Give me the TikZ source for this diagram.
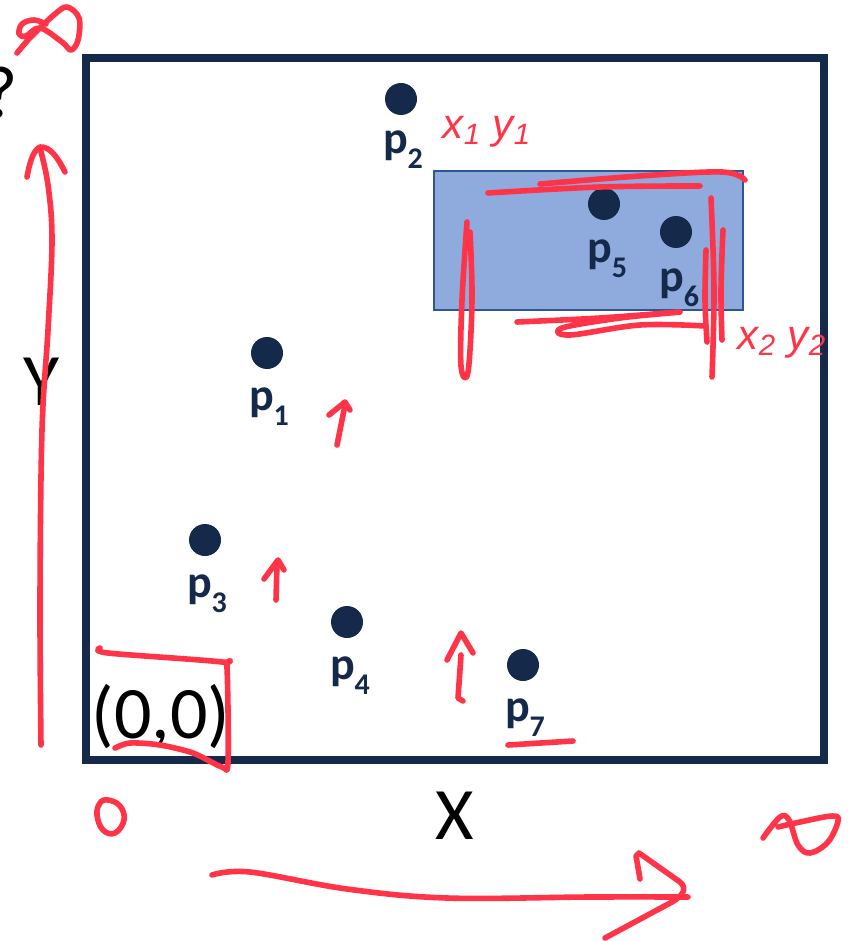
\documentclass[tikz,border=0pt]{standalone}
\usepackage{fontspec}
\setmainfont{Carlito}
\newfontfamily\handfont{Liberation Sans}
\definecolor{navy}{RGB}{21,41,74}
\definecolor{penred}{RGB}{255,52,72}
\definecolor{boxfill}{RGB}{143,170,220}
\definecolor{boxline}{RGB}{47,85,151}
\newcommand\plab[1]{p\raisebox{-7.5pt}{\fontsize{15}{15}\selectfont #1}}
\tikzset{
  dot/.style={circle,fill=navy,inner sep=0pt,minimum size=16pt},
  plabel/.style={anchor=base,text=navy,font=\fontsize{23}{23}\selectfont\bfseries,inner sep=0pt},
  bigtext/.style={text=black,font=\fontsize{37}{37}\selectfont,inner sep=0pt},
  pen/.style={draw=penred,line width=2.8pt,line cap=round,line join=round},
  hand/.style={text=penred,font=\handfont\itshape\fontsize{21}{21}\selectfont,inner sep=0pt},
  frame/.style={draw=navy,line width=4pt},
  region/.style={draw=boxline,line width=1pt,fill=boxfill}
}
\begin{document}
\begin{tikzpicture}[x=0.5pt,y=-0.5pt]
\useasboundingbox (0,0) rectangle (848,941);
% frame
\draw[frame] (86,58) rectangle (824,760);
% query rectangle
\node[region,minimum width=154.5pt,minimum height=69.5pt,inner sep=0pt] (q) at (588.5,240.5) {};
% points
\node[dot] (d1) at (267,353) {};
\node[dot] (d2) at (401,99) {};
\node[dot] (d3) at (205,540) {};
\node[dot] (d4) at (347,622) {};
\node[dot] (d5) at (604,204) {};
\node[dot] (d6) at (676,232) {};
\node[dot] (d7) at (523,665) {};
\node[plabel] (l1) at (269,410) {\plab{1}};
\node[plabel] (l2) at (403,154) {\plab{2}};
\node[plabel] (l3) at (207,597) {\plab{3}};
\node[plabel] (l4) at (350,679) {\plab{4}};
\node[plabel] (l5) at (607,263) {\plab{5}};
\node[plabel] (l6) at (679,291) {\plab{6}};
\node[plabel] (l7) at (525,721) {\plab{7}};
% axis texts
\node[bigtext,anchor=east] (qm) at (18,92) {?};
\node[bigtext] (ylab) at (42,382) {Y};
\node[bigtext] (xlab) at (455,816) {X};
\node[bigtext] (orig) at (161,717) {(0,0)};
% handwritten labels
\node[hand] (h1) at (487,132) {x\textsubscript{1} y\textsubscript{1}};
\node[hand] (h2) at (782,343) {x\textsubscript{2} y\textsubscript{2}};
% red pen strokes
% infinity top-left
\draw[pen] plot[smooth,tension=0.6] coordinates {(17,53) (28,40) (40,28) (55,14) (67,7) (79,18) (78,40) (71,50) (62,42) (40,28) (26,36) (19,34) (22,24) (34,20) (46,24)};
% Y arrow
\draw[pen] plot[smooth,tension=0.6] coordinates {(41,745) (40,600) (42,430) (48,330) (52,240) (48,185) (40,148)};
\draw[pen] (27,177) .. controls (30,160) and (34,150) .. (40,147) .. controls (50,146) and (58,158) .. (65,172);
% X arrow
\draw[pen] plot[smooth,tension=0.6] coordinates {(212,875) (250,872) (347,889) (447,898) (590,897) (688,897)};
\draw[pen] (640,879) -- (636,856) -- (639,853) -- (680,882) .. controls (687,888) and (684,895) .. (672,902) -- (605,938);
% infinity bottom-right
\draw[pen] plot[smooth,tension=0.6] coordinates {(763,838) (780,817) (789,820) (798,845) (810,853) (828,842) (838,821) (832,816) (800,822) (778,827)};
% small zero
\draw[pen] plot[smooth cycle,tension=0.7] coordinates {(108,800) (120,806) (124,820) (115,833) (103,830) (97,815) (100,803)};
% (0,0) box
\draw[pen] plot[smooth,tension=0.5] coordinates {(100,648) (108,653) (222,662) (227,668) (228,762) (222,767) (193,753) (160,745) (130,743) (115,748)};
% small up arrows
\draw[pen] (337,445) -- (345,405);
\draw[pen] (329,415) -- (345,402) -- (350,410);
\draw[pen] (276,600) -- (277,563);
\draw[pen] (264,579) -- (278,560) -- (284,570);
\draw[pen] (463,701) -- (458,698) -- (461,655);
\draw[pen] (447,660) -- (461,633) -- (473,653);
% p7 underline
\draw[pen] (508,745) -- (573,741);
% scribbles around query rectangle
\draw[pen] plot[smooth,tension=0.6] coordinates {(488,193) (600,187) (700,186)};
\draw[pen] plot[smooth,tension=0.6] coordinates {(540,184) (640,176) (722,172) (745,180)};
\draw[pen] plot[smooth,tension=0.6] coordinates {(467,222) (462,300) (461,366) (468,372) (472,300) (470,232)};
\draw[pen] plot[smooth,tension=0.6] coordinates {(711,198) (714,290) (712,377)};
\draw[pen] plot[smooth,tension=0.6] coordinates {(723,230) (721,290) (722,340)};
\draw[pen] plot[smooth,tension=0.6] coordinates {(706,250) (705,300) (707,342)};
\draw[pen] plot[smooth,tension=0.6] coordinates {(517,322) (600,318) (680,312) (620,318) (562,328) (570,335) (640,325) (705,326)};
\end{tikzpicture}
\end{document}
